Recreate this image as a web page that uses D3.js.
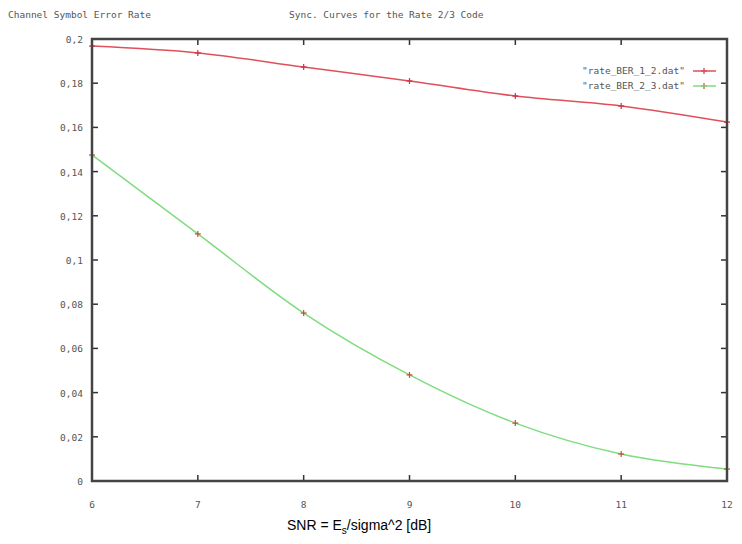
<!DOCTYPE html>
<html>
<head>
<meta charset="utf-8">
<script src="https://cdn.jsdelivr.net/npm/d3@7"></script>
<style>
  body { margin: 0; background: #fff; }
</style>
</head>
<body>
<svg width="742" height="544"></svg>
<script>
const snr = [6, 7, 8, 9, 10, 11, 12];
const rate12 = [0.1968, 0.1937, 0.1873, 0.181, 0.1742, 0.1697, 0.1624];
const rate23 = [0.1475, 0.1118, 0.076, 0.048, 0.0262, 0.0122, 0.0054];
const yTicks = [0, 0.02, 0.04, 0.06, 0.08, 0.1, 0.12, 0.14, 0.16, 0.18, 0.2];
const seriesNames = ['"rate_BER_1_2.dat"', '"rate_BER_2_3.dat"'];

const LEFT = 92, RIGHT = 727, TOP = 39, BOTTOM = 481;
const tickFont = '"DejaVu Sans Mono", monospace';

const svg = d3.select('svg');

const x = d3.scaleLinear().domain([6, 12]).range([LEFT, RIGHT]);
const y = d3.scaleLinear().domain([0, 0.2]).range([BOTTOM, TOP]);

// titles
svg.append('text')
   .text('Channel Symbol Error Rate')
   .attr('x', 8).attr('y', 18)
   .attr('font-family', tickFont).attr('font-size', 9.5)
   .attr('fill', '#555');
svg.append('text')
   .text('Sync. Curves for the Rate 2/3 Code')
   .attr('x', 289).attr('y', 18)
   .attr('font-family', tickFont).attr('font-size', 9.5)
   .attr('fill', '#555');

// ticks (inward, all four sides)
const axisG = svg.append('g').attr('stroke', '#333').attr('stroke-width', 1.5);
snr.forEach(v => {
  axisG.append('line').attr('x1', x(v)).attr('x2', x(v)).attr('y1', BOTTOM).attr('y2', BOTTOM - 6);
  axisG.append('line').attr('x1', x(v)).attr('x2', x(v)).attr('y1', TOP).attr('y2', TOP + 6);
});
yTicks.forEach(v => {
  axisG.append('line').attr('x1', LEFT).attr('x2', LEFT + 6).attr('y1', y(v)).attr('y2', y(v));
  axisG.append('line').attr('x1', RIGHT).attr('x2', RIGHT - 6).attr('y1', y(v)).attr('y2', y(v));
});

// tick labels
svg.append('g').selectAll('text')
   .data(snr).enter().append('text')
   .attr('x', d => x(d)).attr('y', 508)
   .attr('text-anchor', 'middle')
   .attr('font-family', tickFont).attr('font-size', 9.5).attr('fill', '#555')
   .text(d => d);
svg.append('g').selectAll('text')
   .data(yTicks).enter().append('text')
   .attr('x', 83).attr('y', d => y(d) + 4)
   .attr('text-anchor', 'end')
   .attr('font-family', tickFont).attr('font-size', 9.5).attr('fill', '#555')
   .text(d => d === 0 ? '0' : String(d).replace(/^0\./, '0,'));

// curves
const line = d3.line()
  .x((d, i) => x(snr[i]))
  .y(d => y(d))
  .curve(d3.curveMonotoneX);

svg.append('path').datum(rate12)
   .attr('d', line).attr('fill', 'none')
   .attr('stroke', '#e0505a').attr('stroke-width', 1.5);
svg.append('path').datum(rate23)
   .attr('d', line).attr('fill', 'none')
   .attr('stroke', '#7fdc7f').attr('stroke-width', 1.5);

// point markers
function plus(g, cx, cy, color) {
  g.append('line').attr('x1', cx - 3).attr('x2', cx + 3).attr('y1', cy).attr('y2', cy).attr('stroke', color);
  g.append('line').attr('x1', cx).attr('x2', cx).attr('y1', cy - 3).attr('y2', cy + 3).attr('stroke', color);
}
const marks = svg.append('g').attr('stroke-width', 1.2);
rate12.forEach((v, i) => plus(marks, x(snr[i]), y(v), '#d03040'));
rate23.forEach((v, i) => plus(marks, x(snr[i]), y(v), '#c05030'));

// frame
svg.append('rect')
   .attr('x', LEFT).attr('y', TOP)
   .attr('width', RIGHT - LEFT).attr('height', BOTTOM - TOP)
   .attr('fill', 'none').attr('stroke', '#444').attr('stroke-width', 2.5);

// legend
const legendColors = ['#e0505a', '#7fdc7f'];
seriesNames.forEach((name, i) => {
  const ly = 71 + i * 15;
  svg.append('text')
     .text(name)
     .attr('x', 685).attr('y', ly + 3)
     .attr('text-anchor', 'end')
     .attr('font-family', tickFont).attr('font-size', 9.5).attr('fill', '#555');
  svg.append('line')
     .attr('x1', 693).attr('x2', 716).attr('y1', ly).attr('y2', ly)
     .attr('stroke', legendColors[i]).attr('stroke-width', 1.5);
  plus(marks, 704, ly, i === 0 ? '#d03040' : '#c05030');
});

// x label
const xl = svg.append('text')
   .attr('x', 287).attr('y', 530)
   .attr('font-family', 'Arial, "Liberation Sans", sans-serif')
   .attr('font-size', 14).attr('fill', '#000');
xl.append('tspan').text('SNR = E');
xl.append('tspan').text('s').attr('font-size', 10).attr('dy', 4);
xl.append('tspan').text('/sigma^2 [dB]').attr('dy', -4);
</script>
</body>
</html>
